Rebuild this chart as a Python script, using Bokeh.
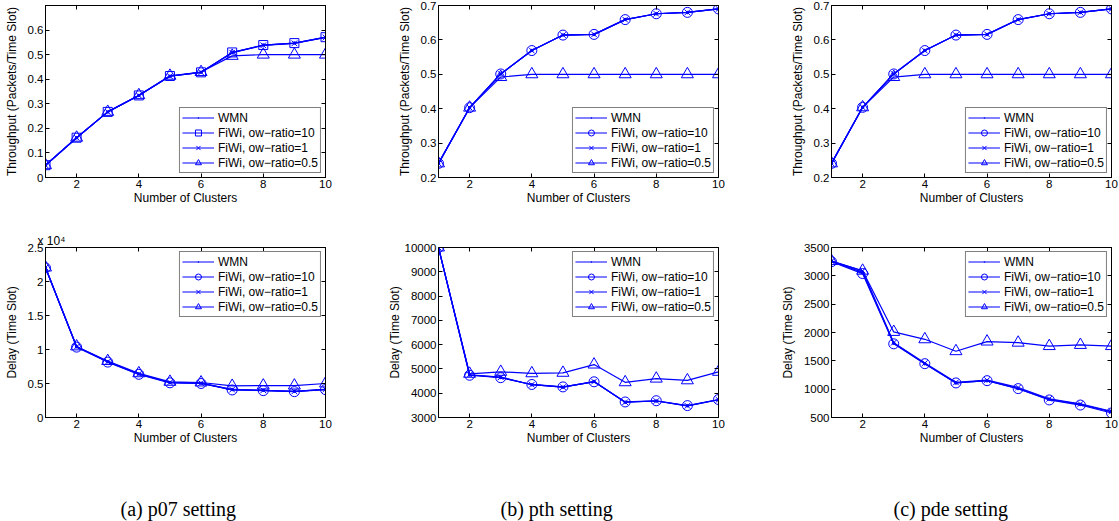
from bokeh.plotting import figure
from bokeh.layouts import column, row
from bokeh.models import FixedTicker, Title, Range1d, LinearAxis, CustomLabelingPolicy
from bokeh.embed import file_html
from bokeh.resources import INLINE

clusters = [1, 2, 3, 4, 5, 6, 7, 8, 9, 10]
series_names = ["WMN", "FiWi, ow\u2212ratio=10", "FiWi, ow\u2212ratio=1", "FiWi, ow\u2212ratio=0.5"]
x_ticks = [2, 4, 6, 8, 10]

# (a) p07 setting
p07_thr_wmn = [0.050, 0.162, 0.267, 0.334, 0.412, 0.428, 0.508, 0.539, 0.547, 0.570]
p07_thr_r10 = [0.050, 0.162, 0.267, 0.334, 0.413, 0.428, 0.509, 0.539, 0.547, 0.571]
p07_thr_r1 = [0.050, 0.162, 0.267, 0.334, 0.412, 0.428, 0.508, 0.538, 0.546, 0.570]
p07_thr_r05 = [0.050, 0.162, 0.267, 0.335, 0.414, 0.429, 0.495, 0.500, 0.500, 0.500]
p07_del_wmn = [22050, 10400, 8200, 6400, 5150, 5050, 4100, 4000, 3850, 4150]
p07_del_r10 = [22000, 10350, 8150, 6350, 5100, 5000, 4050, 3950, 3800, 4100]
p07_del_r1 = [22050, 10400, 8200, 6400, 5150, 5050, 4100, 4000, 3850, 4150]
p07_del_r05 = [22050, 10450, 8300, 6500, 5250, 5150, 4650, 4700, 4700, 5000]

# (b) pth setting
pth_thr_wmn = [0.241, 0.403, 0.501, 0.569, 0.614, 0.616, 0.659, 0.676, 0.680, 0.690]
pth_thr_r10 = [0.241, 0.403, 0.501, 0.569, 0.614, 0.616, 0.659, 0.676, 0.680, 0.690]
pth_thr_r1 = [0.241, 0.403, 0.501, 0.569, 0.614, 0.616, 0.659, 0.676, 0.680, 0.690]
pth_thr_r05 = [0.241, 0.403, 0.492, 0.500, 0.500, 0.500, 0.500, 0.500, 0.500, 0.500]
pth_del_wmn = [10000, 4750, 4650, 4350, 4250, 4480, 3630, 3680, 3480, 3730]
pth_del_r10 = [10000, 4740, 4640, 4360, 4260, 4470, 3640, 3690, 3490, 3740]
pth_del_r1 = [10000, 4760, 4660, 4350, 4250, 4480, 3630, 3680, 3480, 3730]
pth_del_r05 = [10000, 4800, 4880, 4820, 4840, 5180, 4450, 4600, 4530, 4880]

# (c) pde setting
pde_thr_wmn = [0.241, 0.404, 0.501, 0.569, 0.614, 0.616, 0.659, 0.676, 0.680, 0.690]
pde_thr_r10 = [0.241, 0.404, 0.501, 0.569, 0.614, 0.616, 0.659, 0.676, 0.680, 0.690]
pde_thr_r1 = [0.241, 0.404, 0.501, 0.569, 0.614, 0.616, 0.659, 0.676, 0.680, 0.690]
pde_thr_r05 = [0.241, 0.404, 0.492, 0.500, 0.500, 0.500, 0.500, 0.500, 0.500, 0.500]
pde_del_wmn = [3260, 3060, 1810, 1450, 1110, 1150, 1010, 820, 730, 600]
pde_del_r10 = [3250, 3040, 1800, 1450, 1110, 1150, 1010, 810, 720, 580]
pde_del_r1 = [3260, 3090, 1820, 1460, 1120, 1160, 1030, 830, 740, 610]
pde_del_r05 = [3260, 3090, 2010, 1880, 1670, 1840, 1820, 1760, 1780, 1760]

thr_ticks_a = [0, 0.1, 0.2, 0.3, 0.4, 0.5, 0.6]
thr_ticks_bc = [0.2, 0.3, 0.4, 0.5, 0.6, 0.7]
del_ticks_a = [0, 5000, 10000, 15000, 20000, 25000]
del_labels_a = ["0", "0.5", "1", "1.5", "2", "2.5"]
del_ticks_b = [3000, 4000, 5000, 6000, 7000, 8000, 9000, 10000]
del_ticks_c = [500, 1000, 1500, 2000, 2500, 3000, 3500]

BLUE = "#0000ff"
FONT = "Liberation Sans"

HIDE_LABELS = "for (const i of indices) { indices.unset(i) }\nreturn indices"


def box_axis(ticks):
    return LinearAxis(ticker=FixedTicker(ticks=ticks), major_label_text_font_size="0px",
                      major_label_policy=CustomLabelingPolicy(code=HIDE_LABELS),
                      major_tick_in=4, major_tick_out=0, minor_tick_line_color=None,
                      major_label_standoff=0, axis_line_color="black",
                      major_tick_line_color="black")


def make_panel(series, markers, yr, yticks, ylabel, legend_loc, bl, br, bt, bb, fh,
               ylab_over=None, ylab_standoff=6):
    p = figure(frame_width=280, frame_height=fh, output_backend="svg", toolbar_location=None,
               x_range=Range1d(1, 10), y_range=Range1d(*yr),
               min_border_left=bl, min_border_right=br, min_border_top=bt, min_border_bottom=bb,
               background_fill_color="white", border_fill_color="white")
    p.outline_line_color = "black"
    p.outline_line_width = 1
    p.xgrid.visible = False
    p.ygrid.visible = False
    for ax in (p.xaxis[0], p.yaxis[0]):
        ax.major_tick_in = 4
        ax.major_tick_out = 0
        ax.minor_tick_line_color = None
        ax.axis_line_color = "black"
        ax.major_tick_line_color = "black"
        ax.major_label_text_font = FONT
        ax.major_label_text_font_size = "11.5px"
        ax.major_label_text_color = "black"
        ax.axis_label_text_font = FONT
        ax.axis_label_text_font_size = "12px"
        ax.axis_label_text_font_style = "normal"
        ax.axis_label_text_color = "black"
        ax.major_label_standoff = 2
    p.xaxis[0].ticker = FixedTicker(ticks=x_ticks)
    p.xaxis[0].axis_label = "Number of Clusters"
    p.xaxis[0].axis_label_standoff = 0
    p.yaxis[0].ticker = FixedTicker(ticks=yticks)
    p.yaxis[0].axis_label = ylabel
    p.yaxis[0].axis_label_standoff = ylab_standoff
    if ylab_over:
        p.yaxis[0].major_label_overrides = ylab_over
    p.add_layout(box_axis(x_ticks), "above")
    p.add_layout(box_axis(yticks), "right")

    for name, ys, mk in zip(series_names, series, markers):
        p.line(clusters, ys, line_color=BLUE, line_width=1.2, legend_label=name)
        if mk == "dot":
            p.scatter(clusters, ys, marker="dot", size=14, fill_color=BLUE, line_color=BLUE,
                      line_width=1.5, legend_label=name)
        else:
            sz = {"square": 9, "circle": 10, "x": 8, "triangle": 12}[mk]
            p.scatter(clusters, ys, marker=mk, size=sz, fill_color=None, line_color=BLUE,
                      line_width=1.0, legend_label=name)
    lg = p.legend[0]
    lg.location = legend_loc
    lg.margin = 4
    lg.padding = 2
    lg.spacing = 0
    lg.glyph_width = 32
    lg.glyph_height = 15
    lg.label_height = 15
    lg.label_standoff = 4
    lg.label_text_font = FONT
    lg.label_text_font_size = "12px"
    lg.label_text_color = "black"
    lg.border_line_color = "black"
    lg.border_line_width = 1
    lg.background_fill_color = "white"
    lg.background_fill_alpha = 1.0
    return p


def caption(p, text, offset):
    t = Title(text=text, align="left", offset=offset, text_font="Liberation Serif",
              text_font_size="20px", text_font_style="normal", text_color="black", standoff=97)
    p.add_layout(t, "below")


thr_label = "Throughput (Packets/Time Slot)"
del_label = "Delay (Time Slot)"

a1 = make_panel([p07_thr_wmn, p07_thr_r10, p07_thr_r1, p07_thr_r05],
                ["dot", "square", "x", "triangle"], (0, 0.7), thr_ticks_a, thr_label,
                "bottom_right", 45, 48, 5, 38, 172)
b1 = make_panel([pth_thr_wmn, pth_thr_r10, pth_thr_r1, pth_thr_r05],
                ["dot", "circle", "x", "triangle"], (0.2, 0.7), thr_ticks_bc, thr_label,
                "bottom_right", 65, 28, 5, 38, 172)
c1 = make_panel([pde_thr_wmn, pde_thr_r10, pde_thr_r1, pde_thr_r05],
                ["dot", "circle", "x", "triangle"], (0.2, 0.7), thr_ticks_bc, thr_label,
                "bottom_right", 85, 8, 5, 38, 172)

a2 = make_panel([p07_del_wmn, p07_del_r10, p07_del_r1, p07_del_r05],
                ["dot", "circle", "x", "triangle"], (0, 25000), del_ticks_a, del_label,
                "top_right", 45, 48, 32, 104, 170,
                ylab_over={t: l for t, l in zip(del_ticks_a, del_labels_a)})
b2 = make_panel([pth_del_wmn, pth_del_r10, pth_del_r1, pth_del_r05],
                ["dot", "circle", "x", "triangle"], (3000, 10000), del_ticks_b, del_label,
                "top_right", 65, 28, 32, 104, 170, ylab_standoff=0)
c2 = make_panel([pde_del_wmn, pde_del_r10, pde_del_r1, pde_del_r05],
                ["dot", "circle", "x", "triangle"], (500, 3500), del_ticks_c, del_label,
                "top_right", 85, 8, 32, 104, 170)

a2.add_layout(Title(text="x 10\u2074", align="left", offset=-8, text_font=FONT,
                    text_font_size="12px", text_font_style="normal", text_color="black",
                    standoff=0), "above")

caption(a2, "(a) p07 setting", 75)
caption(b2, "(b) pth setting", 62)
caption(c2, "(c) pde setting", 62)

layout = column(row(a1, b1, c1, spacing=0), row(a2, b2, c2, spacing=0), spacing=0)
open("out.html", "w").write(file_html(layout, INLINE))
